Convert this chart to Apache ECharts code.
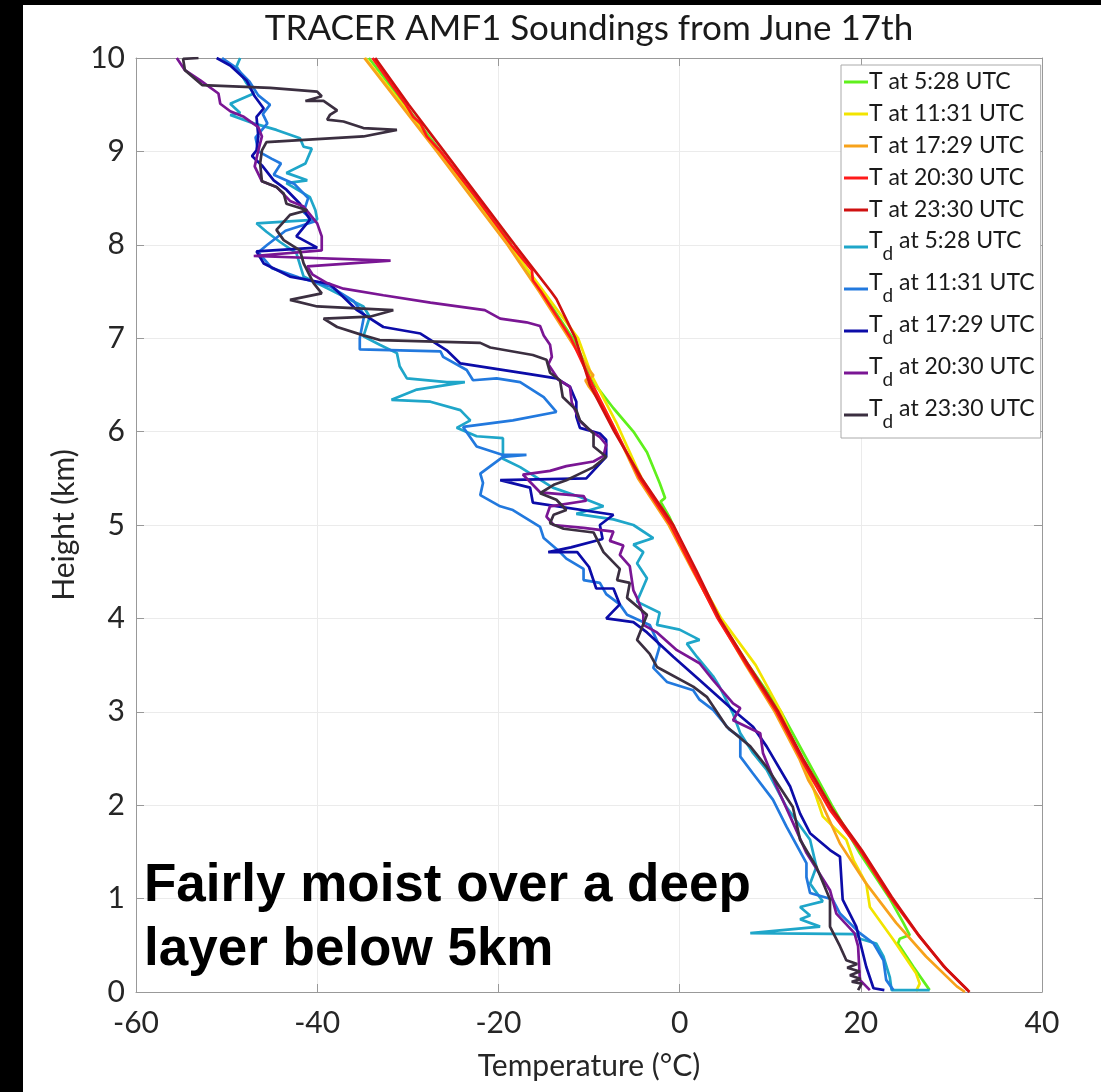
<!DOCTYPE html>
<html>
<head>
<meta charset="utf-8">
<script src="https://cdn.jsdelivr.net/npm/echarts@6/dist/echarts.min.js"></script>
<style>
  html, body { margin: 0; padding: 0; background: #fff; }
  #main { width: 1101px; height: 1092px; }
</style>
</head>
<body>
<div id="main"></div>
<script>
// soundings: [temperature (°C), height (km)], top to bottom
var tT0528 = [[-34.3,10.0],[-30.3,9.5],[-26.4,9.0],[-22.6,8.5],[-18.8,8.05],[-18.4,7.95],[-15.2,7.5],[-11.8,7.0],[-9.3,6.5],[-7.3,6.25],
  [-5.1,6.0],[-3.6,5.78],[-2.2,5.45],[-1.6,5.29],[-2.1,5.25],[-1.1,5.08],[1.6,4.5],[4.3,4.0],[7.6,3.5],[11.2,3.0],[14.0,2.5],
  [16.8,2.0],[19.8,1.5],[23.2,1.0],[24.7,0.74],[25.4,0.61],[24.3,0.57],[24.1,0.52],[25.8,0.27],[27.6,0.02]];
var tT1131 = [[-34.7,10.0],[-30.6,9.5],[-26.6,9.0],[-22.8,8.5],[-18.8,8.0],[-15.0,7.5],[-11.2,7.0],[-9.7,6.6],[-7.0,6.1],[-4.2,5.5],
  [-1.0,5.0],[1.7,4.5],[4.6,4.0],[8.4,3.5],[11.2,3.0],[13.3,2.5],[14.7,2.2],[15.8,1.88],[18.4,1.63],[19.2,1.41],[20.6,1.16],
  [21.0,0.91],[23.6,0.56],[26.1,0.20],[26.5,0.09],[26.1,0.01]];
var tT1729 = [[-34.8,10.0],[-30.8,9.5],[-26.8,9.0],[-22.9,8.5],[-19.0,8.0],[-15.5,7.5],[-12.2,7.0],[-9.9,6.65],[-9.5,6.60],[-10.4,6.55],
  [-10.0,6.48],[-8.6,6.3],[-7.0,6.0],[-4.6,5.5],[-1.2,5.0],[1.5,4.5],[4.3,4.0],[7.3,3.5],[10.5,3.0],[13.2,2.5],[14.2,2.27],
  [15.5,2.06],[17.7,1.59],[20.6,1.16],[23.9,0.74],[27.2,0.38],[30.6,0.06],[31.5,0.0]];
var tT2030 = [[-33.9,10.0],[-30.2,9.5],[-29.4,9.37],[-28.6,9.30],[-27.9,9.16],[-26.4,9.0],[-22.4,8.5],[-18.6,8.0],[-16.3,7.73],
  [-16.2,7.62],[-15.3,7.5],[-12.0,7.0],[-9.6,6.5],[-7.0,6.0],[-4.4,5.5],[-1.0,5.0],[1.6,4.5],[4.2,4.0],[7.4,3.5],[10.7,3.0],
  [13.4,2.5],[14.7,2.27],[16.6,1.95],[19.9,1.52],[23.2,1.02],[26.5,0.59],[29.5,0.24],[31.8,0.02]];
var tT2330 = [[-33.6,10.0],[-29.9,9.5],[-26.0,9.0],[-22.1,8.5],[-18.2,8.0],[-14.2,7.5],[-13.6,7.42],[-11.5,7.0],[-9.9,6.5],[-7.2,6.0],
  [-4.2,5.5],[-0.7,5.0],[1.9,4.5],[4.4,4.0],[7.6,3.5],[10.9,3.0],[13.6,2.5],[15.0,2.27],[16.9,1.95],[20.1,1.52],[23.4,1.02],
  [26.3,0.62],[29.2,0.27],[32.0,0.0]];

var td0528 = [[-48.5,10.0],[-48.9,9.91],[-47.8,9.73],[-47.0,9.62],[-49.6,9.51],[-48.5,9.41],[-49.6,9.39],[-47.0,9.30],[-44.5,9.23],
  [-41.9,9.14],[-41.5,9.05],[-40.6,9.03],[-41.3,8.87],[-43.4,8.77],[-41.1,8.69],[-43.4,8.66],[-40.8,8.51],[-40.2,8.37],[-40.0,8.27],
  [-46.7,8.23],[-45.6,8.14],[-44.1,8.03],[-42.3,7.91],[-41.5,7.66],[-38.6,7.52],[-34.9,7.34],[-34.2,7.23],[-34.9,7.02],[-33.1,6.93],
  [-31.2,6.84],[-30.9,6.70],[-30.1,6.57],[-25.7,6.53],[-23.7,6.53],[-29.0,6.45],[-31.8,6.34],[-27.5,6.32],[-24.2,6.23],[-23.1,6.12],
  [-24.6,6.04],[-22.4,5.95],[-19.5,5.93],[-19.5,5.71],[-17.6,5.62],[-15.8,5.51],[-14.0,5.40],[-11.0,5.30],[-8.4,5.20],[-11.4,5.12],
  [-7.3,5.06],[-5.1,5.0],[-2.9,4.86],[-5.1,4.79],[-4.0,4.71],[-4.7,4.59],[-3.6,4.43],[-4.7,4.18],[-2.2,4.06],[-2.5,3.93],[0.0,3.88],
  [2.2,3.77],[0.8,3.73],[1.9,3.59],[3.7,3.38],[4.4,3.27],[5.9,2.98],[6.7,2.77],[8.1,2.56],[9.6,2.38],[11.8,1.98],[14.4,1.63],
  [15.1,1.34],[14.4,1.16],[15.8,0.97],[13.3,0.91],[14.4,0.82],[13.3,0.78],[15.5,0.70],[7.8,0.63],[19.5,0.62],[19.9,0.57],
  [21.7,0.52],[22.5,0.38],[23.2,0.16],[23.4,0.02],[27.6,0.02]];
var td1131 = [[-50.5,10.0],[-49.0,9.9],[-47.5,9.75],[-46.5,9.6],[-45.2,9.5],[-46.0,9.4],[-45.5,9.3],[-46.8,9.15],[-46.5,9.0],[-45.0,8.92],
  [-44.0,8.87],[-44.8,8.75],[-42.5,8.65],[-41.0,8.5],[-41.5,8.35],[-40.3,8.25],[-43.5,8.15],[-45.5,8.0],[-46.5,7.92],[-45.0,7.75],
  [-42.0,7.65],[-38.5,7.55],[-36.0,7.4],[-34.8,7.25],[-35.3,7.0],[-35.3,6.88],[-26.4,6.86],[-26.1,6.80],[-23.5,6.66],[-22.8,6.55],
  [-20.2,6.57],[-17.6,6.53],[-15.0,6.37],[-13.6,6.21],[-18.4,6.12],[-23.9,6.05],[-22.4,5.84],[-19.5,5.75],[-16.9,5.75],[-19.5,5.73],
  [-22.0,5.55],[-21.7,5.45],[-22.0,5.32],[-19.8,5.20],[-18.4,5.16],[-15.4,4.98],[-15.0,4.86],[-13.2,4.71],[-12.5,4.64],[-10.6,4.53],
  [-10.6,4.41],[-8.8,4.38],[-8.1,4.26],[-6.6,4.15],[-5.8,4.04],[-3.3,3.93],[-2.2,3.70],[-2.9,3.47],[-1.4,3.32],[1.5,3.23],[2.2,3.13],
  [3.7,3.02],[5.5,2.81],[6.7,2.73],[6.7,2.52],[8.1,2.34],[10.3,2.06],[11.8,1.77],[14.0,1.38],[14.0,1.23],[14.4,1.06],[16.9,0.99],
  [17.7,0.84],[19.9,0.63],[21.4,0.52],[22.5,0.34],[22.8,0.13],[23.6,0.02]];
var td1729 = [[-51.1,10.0],[-49.6,9.92],[-47.8,9.76],[-46.9,9.59],[-45.9,9.46],[-46.7,9.37],[-46.5,9.16],[-46.7,9.01],[-47.2,8.95],
  [-46.1,8.85],[-44.8,8.69],[-43.4,8.59],[-41.9,8.44],[-40.8,8.27],[-42.3,8.09],[-40.0,7.97],[-46.7,7.93],[-45.9,7.80],[-43.0,7.66],
  [-38.6,7.58],[-35.6,7.30],[-32.7,7.12],[-28.6,7.05],[-25.7,6.87],[-24.2,6.73],[-16.9,6.62],[-13.6,6.57],[-12.1,6.48],[-11.4,6.32],
  [-11.4,6.16],[-11.0,6.04],[-8.8,5.98],[-8.1,5.91],[-8.1,5.73],[-10.3,5.50],[-19.8,5.48],[-16.5,5.40],[-16.2,5.24],[-7.3,5.11],
  [-8.8,5.0],[-8.5,4.85],[-12.0,4.76],[-14.5,4.71],[-11.3,4.71],[-10.0,4.55],[-9.2,4.32],[-7.3,4.32],[-6.6,4.15],[-8.1,4.0],
  [-5.1,3.96],[-3.6,3.85],[-0.7,3.59],[2.2,3.34],[5.9,3.02],[8.1,2.84],[9.6,2.63],[12.2,2.20],[13.3,1.91],[14.4,1.70],[16.6,1.52],
  [17.7,1.45],[18.0,0.99],[19.5,0.70],[20.6,0.27],[21.4,0.04],[22.6,0.02]];
var td2030 = [[-55.5,10.0],[-54.6,9.87],[-52.9,9.76],[-50.9,9.62],[-50.7,9.51],[-49.6,9.43],[-48.1,9.37],[-46.5,9.26],[-46.1,9.16],
  [-46.5,9.01],[-46.9,8.84],[-46.1,8.68],[-44.5,8.62],[-43.0,8.47],[-41.5,8.41],[-40.0,8.23],[-39.5,8.09],[-39.5,7.94],[-47.0,7.88],
  [-31.9,7.83],[-41.1,7.77],[-40.5,7.68],[-38.9,7.59],[-37.1,7.53],[-32.7,7.46],[-27.5,7.38],[-21.5,7.30],[-19.8,7.21],[-16.9,7.17],
  [-15.4,7.13],[-15.0,7.03],[-14.3,6.93],[-14.1,6.80],[-14.5,6.72],[-13.4,6.56],[-12.1,6.48],[-11.9,6.31],[-11.0,6.11],[-10.1,6.03],
  [-8.8,5.94],[-8.1,5.86],[-8.4,5.74],[-9.5,5.68],[-12.5,5.63],[-14.3,5.58],[-17.3,5.54],[-15.4,5.35],[-10.6,5.31],[-10.3,5.26],
  [-14.3,5.20],[-14.7,5.09],[-13.9,5.00],[-10.6,4.97],[-7.3,4.93],[-7.7,4.83],[-6.2,4.78],[-6.6,4.68],[-5.5,4.56],[-5.1,4.30],
  [-4.7,4.22],[-4.0,4.04],[-4.0,3.93],[-2.5,3.85],[-0.3,3.66],[2.2,3.52],[3.7,3.34],[5.9,3.09],[6.7,3.04],[5.9,2.91],[8.9,2.77],
  [9.2,2.56],[10.7,2.20],[12.2,1.88],[14.0,1.49],[16.6,1.09],[17.3,0.84],[19.3,0.63],[19.7,0.49],[19.9,0.13],[21.0,0.02]];
var td2330 = [[-53.1,10.0],[-54.8,9.99],[-54.6,9.87],[-52.7,9.71],[-45.2,9.68],[-40.0,9.64],[-39.5,9.59],[-41.3,9.54],[-39.3,9.54],
  [-37.8,9.44],[-38.6,9.39],[-38.9,9.34],[-37.1,9.32],[-34.9,9.25],[-31.2,9.23],[-34.9,9.16],[-45.6,9.10],[-46.1,9.01],[-46.3,8.87],
  [-46.1,8.68],[-44.5,8.62],[-43.7,8.55],[-43.4,8.44],[-41.1,8.37],[-43.0,8.32],[-44.5,8.16],[-43.7,8.05],[-41.9,7.94],[-41.5,7.80],
  [-40.4,7.59],[-39.5,7.48],[-43.0,7.41],[-40.0,7.34],[-31.6,7.30],[-34.2,7.23],[-39.3,7.21],[-37.8,7.12],[-34.9,7.03],[-33.1,6.98],
  [-22.0,6.95],[-20.9,6.90],[-16.2,6.82],[-14.7,6.77],[-14.3,6.63],[-13.2,6.55],[-12.9,6.37],[-11.4,6.23],[-11.0,6.12],[-9.5,5.98],
  [-9.5,5.84],[-8.1,5.73],[-9.5,5.62],[-11.0,5.55],[-12.5,5.48],[-13.9,5.43],[-15.4,5.34],[-13.6,5.27],[-12.5,5.16],[-13.9,5.11],
  [-14.3,5.02],[-12.8,4.96],[-9.5,4.92],[-8.4,4.71],[-6.6,4.53],[-6.9,4.41],[-5.5,4.38],[-5.8,4.22],[-3.6,4.04],[-4.7,3.77],
  [-3.3,3.62],[-2.5,3.48],[1.5,3.27],[3.0,3.16],[5.2,2.84],[7.8,2.63],[9.6,2.41],[12.5,1.98],[13.3,1.63],[15.1,1.34],[16.6,0.99],
  [16.6,0.70],[17.7,0.49],[18.4,0.34],[19.6,0.30],[18.5,0.26],[19.9,0.22],[18.8,0.18],[20.0,0.14],[19.0,0.11],[20.1,0.09],[19.7,0.02]];

var names = ['T at 5:28 UTC', 'T at 11:31 UTC', 'T at 17:29 UTC', 'T at 20:30 UTC', 'T at 23:30 UTC',
  'Td at 5:28 UTC', 'Td at 11:31 UTC', 'Td at 17:29 UTC', 'Td at 20:30 UTC', 'Td at 23:30 UTC'];
var colors = ['#5ff01c', '#f2e400', '#f7a21b', '#ff1a1a', '#cf1010',
  '#1fa6c9', '#2279de', '#0c0ca8', '#7a1694', '#3b2f40'];
var soundings = [tT0528, tT1131, tT1729, tT2030, tT2330, td0528, td1131, td1729, td2030, td2330];

var xTicks = [-60, -40, -20, 0, 20, 40];
var yTicks = [0, 1, 2, 3, 4, 5, 6, 7, 8, 9, 10];

var FONT = 'Lato';
var myChart = echarts.init(document.getElementById('main'));

var series = soundings.map(function (d, i) {
  return {
    name: names[i],
    type: 'line',
    data: d,
    showSymbol: false,
    symbol: 'none',
    lineStyle: { width: 2.7, color: colors[i] },
    itemStyle: { color: colors[i] },
    z: 2 + i
  };
});

// plain box axes for the top and right edges
var boxAxis = {
  axisLine: { show: true, onZero: false, lineStyle: { color: '#999', width: 1 } },
  axisTick: { show: true, inside: true, length: 8, lineStyle: { color: '#999' } },
  axisLabel: { show: false },
  splitLine: { show: false }
};

myChart.setOption({
  animation: false,
  backgroundColor: '#fff',
  grid: { left: 136, right: 59, top: 58, bottom: 100 },
  xAxis: [{
    type: 'value', min: -60, max: 40, interval: 20,
    name: 'Temperature (°C)', nameLocation: 'middle', nameGap: 59,
    nameTextStyle: { fontFamily: FONT, fontSize: 30, color: '#262626' },
    axisLine: { show: true, onZero: false, lineStyle: { color: '#999', width: 1 } },
    axisTick: { show: true, inside: true, length: 8, lineStyle: { color: '#999' } },
    axisLabel: { fontFamily: FONT, fontSize: 30, color: '#262626', margin: 16,
      formatter: function (v) { return xTicks.indexOf(v) >= 0 ? String(v) : ''; } },
    splitLine: { show: true, lineStyle: { color: '#ebebeb', width: 1 } }
  }, Object.assign({ type: 'value', min: -60, max: 40, interval: 20, position: 'top' }, boxAxis)],
  yAxis: [{
    type: 'value', min: 0, max: 10, interval: 1,
    name: 'Height (km)', nameLocation: 'middle', nameGap: 54, nameRotate: 90,
    nameTextStyle: { fontFamily: FONT, fontSize: 30, color: '#262626' },
    axisLine: { show: true, onZero: false, lineStyle: { color: '#999', width: 1 } },
    axisTick: { show: true, inside: true, length: 8, lineStyle: { color: '#999' } },
    axisLabel: { fontFamily: FONT, fontSize: 30, color: '#262626', margin: 11,
      formatter: function (v) { return yTicks.indexOf(v) >= 0 ? String(v) : ''; } },
    splitLine: { show: true, lineStyle: { color: '#ebebeb', width: 1 } }
  }, Object.assign({ type: 'value', min: 0, max: 10, interval: 1, position: 'right' }, boxAxis)],
  legend: {
    data: names,
    orient: 'vertical',
    left: 841, top: 65,
    padding: [4, 6, 5, 3],
    itemGap: 6,
    itemWidth: 24, itemHeight: 3,
    icon: 'rect',
    backgroundColor: '#fff',
    borderColor: '#aaa', borderWidth: 1, borderRadius: 0,
    textStyle: {
      fontFamily: FONT, fontSize: 23, color: '#1a1a1a', lineHeight: 26, padding: [0, 0, 0, -4],
      rich: {
        t: { fontFamily: FONT, fontSize: 23, color: '#1a1a1a', lineHeight: 17, padding: [0, 0, 13, 0] },
        s: { fontFamily: FONT, fontSize: 19, color: '#1a1a1a', lineHeight: 17, padding: [13, 0, 0, 0] }
      }
    },
    formatter: function (n) {
      if (n.indexOf('Td') === 0) return '{t|T}{s|d}{t|' + n.slice(2) + '}';
      return n;
    }
  },
  graphic: [
    { type: 'rect', shape: { x: 0, y: 0, width: 23, height: 1092 }, style: { fill: '#000' }, z: 100 },
    { type: 'rect', shape: { x: 0, y: 0, width: 1101, height: 5 }, style: { fill: '#000' }, z: 100 },
    { type: 'text', x: 589, y: 11, z: 100,
      style: { text: 'TRACER AMF1 Soundings from June 17th', font: '35px Lato', fill: '#1a1a1a', textAlign: 'center' } },
    { type: 'text', x: 144, y: 854, z: 100,
      style: { text: 'Fairly moist over a deep\nlayer below 5km', font: 'bold 53px "Liberation Sans"',
        lineHeight: 64, fill: '#000', textAlign: 'left' } }
  ],
  series: series
});
</script>
</body>
</html>
